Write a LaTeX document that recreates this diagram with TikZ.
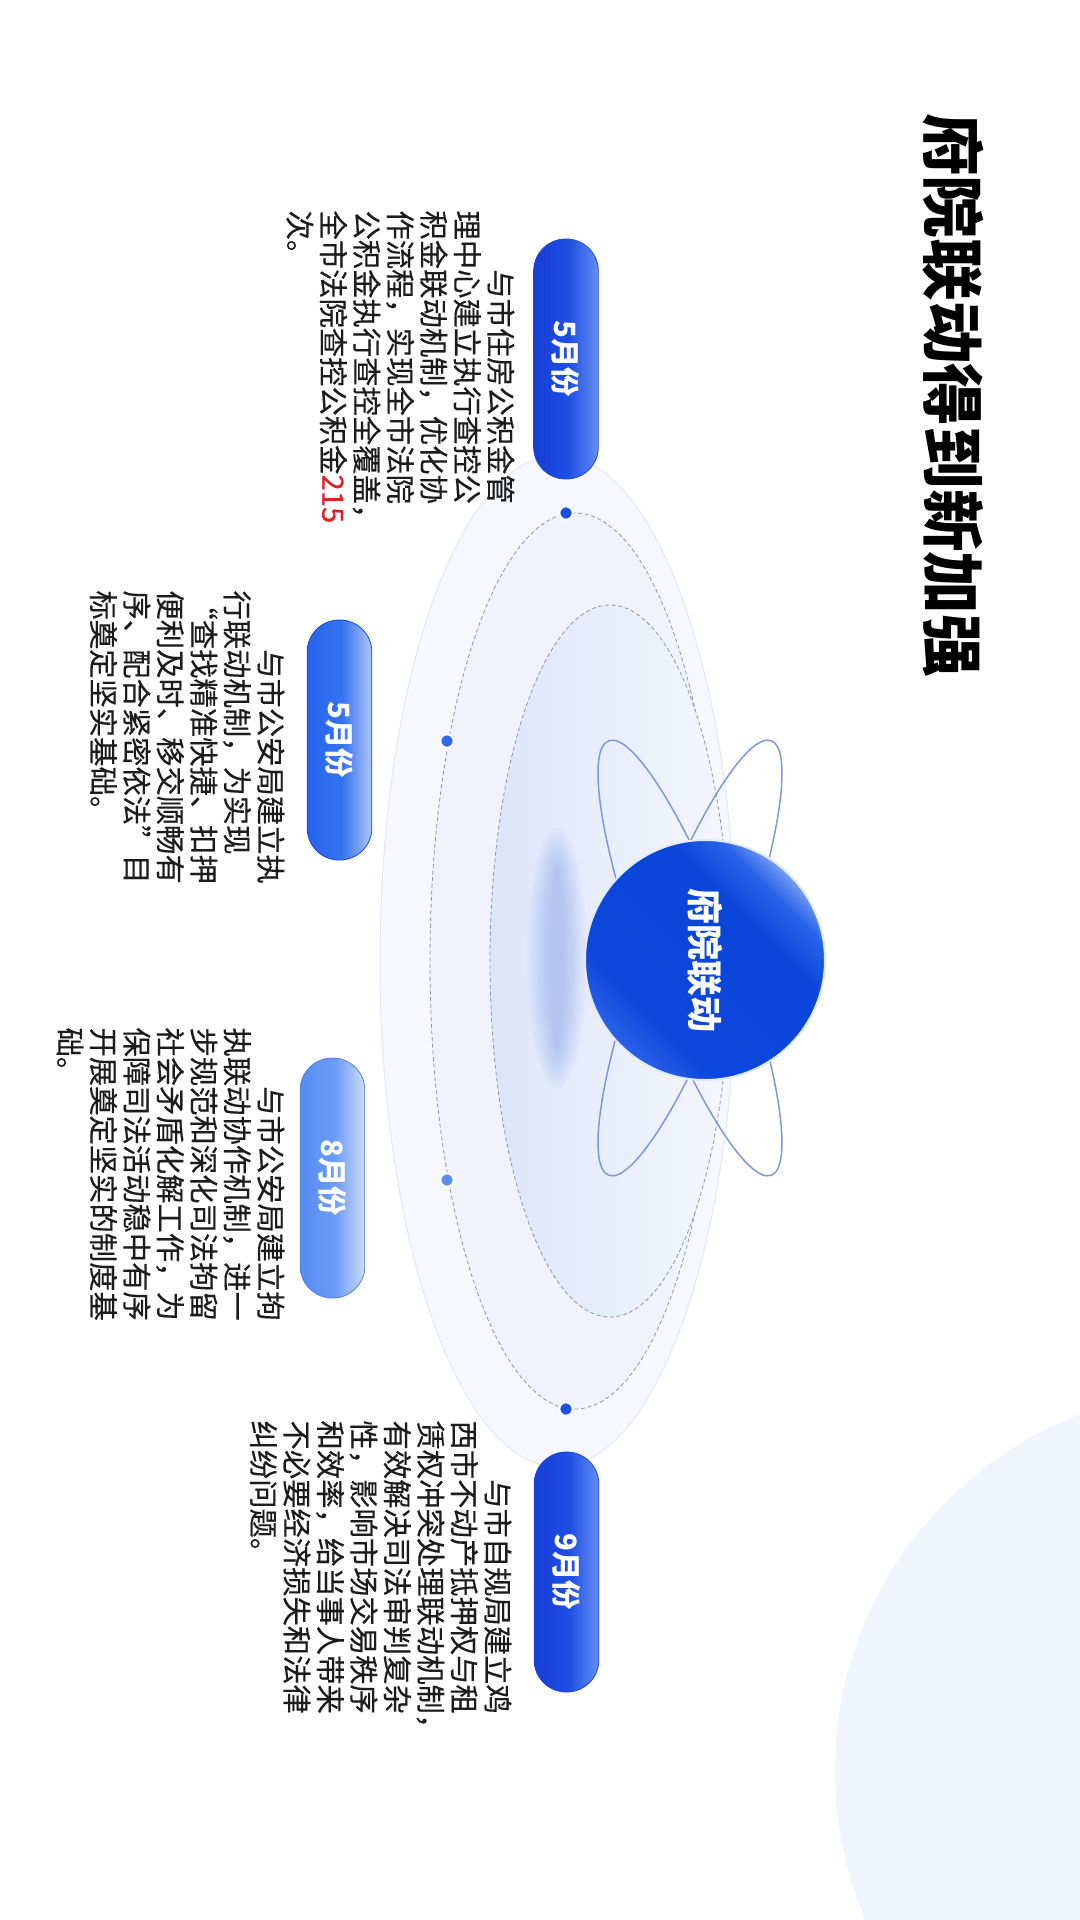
\documentclass[tikz,border=0pt]{standalone}
\usepackage{fontspec}
\setmainfont{Noto Sans CJK SC}
\newfontfamily\bodyfont{Noto Sans CJK SC}[FakeBold=0.3]

\pgfdeclarehorizontalshading{pilldark}{100bp}{rgb(0bp)=(0.09,0.24,0.84); rgb(25bp)=(0.09,0.24,0.84); rgb(52bp)=(0.12,0.31,0.89); rgb(75bp)=(0.40,0.56,0.95); rgb(100bp)=(0.40,0.56,0.95)}
\pgfdeclarehorizontalshading{pillmid}{100bp}{rgb(0bp)=(0.15,0.39,0.93); rgb(25bp)=(0.15,0.39,0.93); rgb(52bp)=(0.21,0.45,0.94); rgb(75bp)=(0.68,0.77,0.97); rgb(100bp)=(0.68,0.77,0.97)}
\pgfdeclarehorizontalshading{pilllight}{100bp}{rgb(0bp)=(0.34,0.55,0.96); rgb(25bp)=(0.34,0.55,0.96); rgb(52bp)=(0.42,0.61,0.96); rgb(75bp)=(0.80,0.86,0.98); rgb(100bp)=(0.80,0.86,0.98)}
\pgfdeclareverticalshading{coreball}{100bp}{rgb(0bp)=(0.17,0.38,0.91); rgb(25bp)=(0.17,0.38,0.91); rgb(34bp)=(0.05,0.28,0.86); rgb(62bp)=(0.04,0.27,0.85); rgb(70bp)=(0.16,0.39,0.91); rgb(75bp)=(0.47,0.62,0.96); rgb(100bp)=(0.47,0.62,0.96)}

\tikzset{every picture/.style={line width=0.75pt}}
\tikzset{
  pill/.style={rectangle, rounded corners=24pt, rotate=-90, minimum width=180pt, minimum height=48.5pt, inner sep=0pt, text=white, font=\bfseries\fontsize{22}{22}\selectfont, draw={rgb,255:red,30;green,70;blue,210}, line width=0.6pt},
  body/.style={rotate=-90, anchor=north west, inner sep=0pt, align=left, text={rgb,255:red,28;green,28;blue,28}, font=\bodyfont\fontsize{22}{25.1}\selectfont},
  dot/.style={circle, inner sep=0pt, minimum size=10pt, fill={rgb,255:red,30;green,80;blue,224}, draw=white, line width=1.5pt},
  orbit/.style={draw={rgb,255:red,122;green,150;blue,220}, line width=1.1pt},
  ring/.style={draw={rgb,255:red,140;green,150;blue,170}, dash pattern=on 3pt off 2pt, line width=0.6pt}
}

\begin{document}
\begin{tikzpicture}[x=0.75pt,y=0.75pt,yscale=-1,xscale=1]
\useasboundingbox (0,0) rectangle (1080,1920);
\fill[white] (0,0) rectangle (1080,1920);

%Shape: Circle [corner]
\fill[fill={rgb,255:red,240;green,244;blue,252}] (1215,1770) circle (380);

%Shape: Ellipse [outer halo]
\draw[draw={rgb,255:red,228;green,232;blue,243}, fill={rgb,255:red,246;green,248;blue,253}] (558,961) ellipse [x radius=178, y radius=506];
%Shape: Ellipse [dashed ring]
\draw[ring, fill={rgb,255:red,240;green,243;blue,252}] (575,961) ellipse [x radius=145, y radius=448];
%Shape: Ellipse [inner ring]
\draw[ring, left color={rgb,255:red,220;green,229;blue,249}, right color={rgb,255:red,245;green,247;blue,254}] (610,961) ellipse [x radius=120, y radius=356];
%Shape: Ellipse [blur]
\foreach \k in {1,...,10}
  \fill[fill={rgb,255:red,120;green,155;blue,235}, opacity=0.05] (557,958) ellipse [x radius={32-2.4*\k}, y radius={135-4.5*\k}];

%Shape: Ellipse [orbits]
\coordinate (oc) at (690,958);
\draw[orbit, rotate around={20.5:(oc)}] (oc) ellipse [x radius=46, y radius=232];
\draw[orbit, rotate around={-20.5:(oc)}] (oc) ellipse [x radius=46, y radius=232];

%Shape: Circle [core]
\node[circle, minimum size=180pt, inner sep=0pt, draw={rgb,255:red,225;green,233;blue,252}, line width=1.5pt, rotate=-90, shading=coreball, shading angle=-45, text=white, font=\bfseries\fontsize{27}{27}\selectfont] (core) at (705,960) {府院联动};

% Text Node
\node[rotate=-90, inner sep=0pt, font=\bfseries\fontsize{47}{47}\selectfont] (title) at (953,395) {府院联动得到新加强};

%Shape: Dots
\node[dot] (d1) at (566,513) {};
\node[dot, fill={rgb,255:red,45;green,104;blue,238}] (d2) at (447,741) {};
\node[dot, fill={rgb,255:red,90;green,144;blue,244}] (d3) at (447,1180) {};
\node[dot] (d4) at (566,1409) {};

%Shape: Pills
\node[pill, shading=pilldark] (m1) at (566,359) {5月份};
\node[pill, shading=pillmid] (m2) at (339.5,740) {5月份};
\node[pill, shading=pilllight, draw={rgb,255:red,80;green,130;blue,235}] (m3) at (332.5,1178) {8月份};
\node[pill, shading=pilldark] (m4) at (566.5,1572) {9月份};

% Text Node
\node[body] (t1) at (515,210) {\hspace*{2em}与市住房公积金管\\理中心建立执行查控公\\积金联动机制，优化协\\作流程，实现全市法院\\公积金执行查控全覆盖，\\全市法院查控公积金\textcolor[RGB]{224,32,32}{215}\\次。};
% Text Node
\node[body] (t2) at (285,590) {\hspace*{2em}与市公安局建立执\\行联动机制，为实现\\“查找精准快捷、扣押\\便利及时、移交顺畅有\\序、配合紧密依法”目\\标奠定坚实基础。};
% Text Node
\node[body] (t3) at (285,1027) {\hspace*{2em}与市公安局建立拘\\执联动协作机制，进一\\步规范和深化司法拘留\\社会矛盾化解工作，为\\保障司法活动稳中有序\\开展奠定坚实的制度基\\础。};
% Text Node
\node[body] (t4) at (512,1420) {\hspace*{2em}与市自规局建立鸡\\西市不动产抵押权与租\\赁权冲突处理联动机制，\\有效解决司法审判复杂\\性，影响市场交易秩序\\和效率，给当事人带来\\不必要经济损失和法律\\纠纷问题。};
\end{tikzpicture}
\end{document}
